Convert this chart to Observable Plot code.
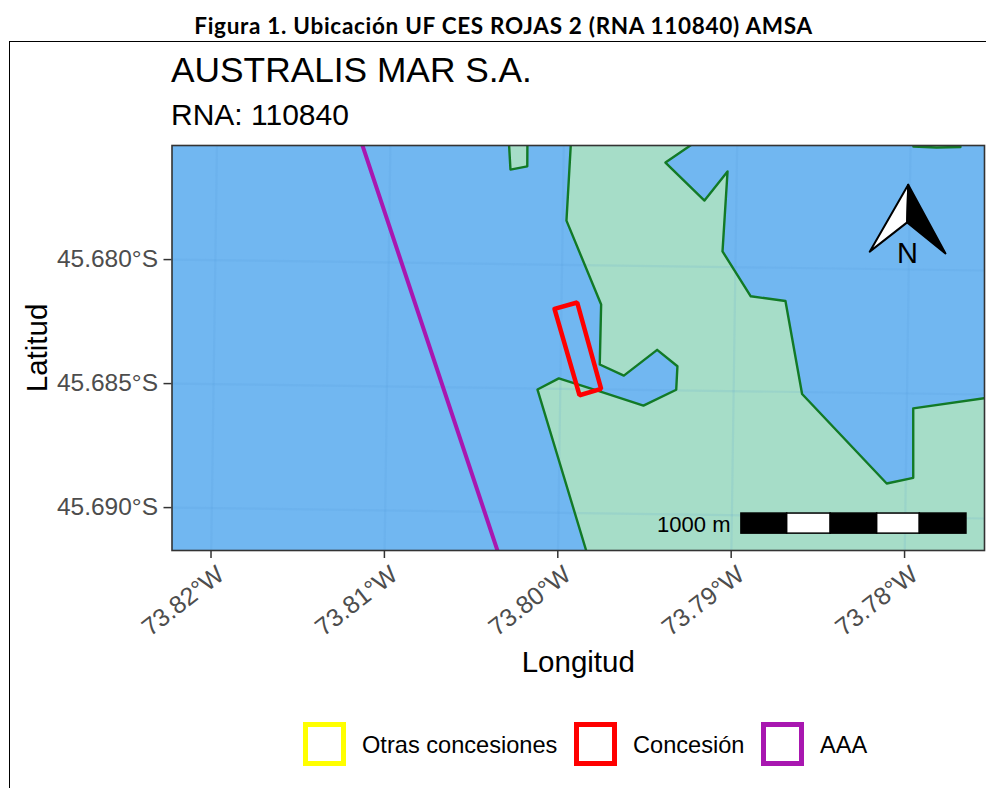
<!DOCTYPE html>
<html lang="es">
<head>
<meta charset="utf-8">
<title>Figura 1</title>
<script src="https://cdn.jsdelivr.net/npm/d3@7"></script>
<script src="https://cdn.jsdelivr.net/npm/@observablehq/plot@0.6"></script>
<style>
  html,body{margin:0;padding:0;background:#fff;}
  #page{position:relative;width:986px;height:788px;overflow:hidden;font-family:"Liberation Sans",sans-serif;}
  #rule{position:absolute;left:9px;top:41px;right:0;bottom:0;border-left:1px solid #000;border-top:1px solid #000;}
  #fig{position:absolute;left:0;width:1007px;top:13px;text-align:center;font:bold 22.5px Lato,sans-serif;letter-spacing:0.7px;color:#000;white-space:nowrap;line-height:26px;}
  #t1{position:absolute;left:171px;top:49px;font-size:35.3px;line-height:42px;color:#000;white-space:nowrap;}
  #t2{position:absolute;left:171px;top:98px;font-size:30px;line-height:34px;color:#000;white-space:nowrap;}
  #chart{position:absolute;left:0;top:135px;}
  #chart svg{display:block;}
  #legend{position:absolute;left:0;top:722px;height:44px;width:986px;font-size:23.6px;color:#000;}
  .sw{position:absolute;top:0;width:33px;height:34px;border:5px solid;}
  .lb{position:absolute;top:0;line-height:46px;white-space:nowrap;}
</style>
</head>
<body>
<div id="page">
  <div id="rule"></div>
  <div id="fig"></div>
  <div id="t1"></div>
  <div id="t2"></div>
  <div id="chart"></div>
  <div id="legend"></div>
</div>
<script>
const figureTitle = "Figura 1. Ubicación UF CES ROJAS 2 (RNA 110840) AMSA";
const title = "AUSTRALIS MAR S.A.";
const subtitle = "RNA: 110840";

const lonDomain = [-73.82225, -73.77539];
const latDomain = [-45.69173, -45.67540];
const lonTicks = [-73.82, -73.81, -73.80, -73.79, -73.78];
const latTicks = [-45.68, -45.685, -45.69];

const mainland = [
  [-73.79922,-45.67500],[-73.79950,-45.67843],[-73.79750,-45.68181],[-73.79758,-45.68423],
  [-73.79619,-45.68468],[-73.79427,-45.68364],[-73.79310,-45.68430],[-73.79317,-45.68525],
  [-73.79506,-45.68589],[-73.79758,-45.68531],[-73.79994,-45.68479],[-73.80117,-45.68524],
  [-73.79810,-45.69234],[-73.77447,-45.69234],[-73.77447,-45.68550],[-73.77950,-45.68600],
  [-73.77950,-45.68880],[-73.78103,-45.68903],[-73.78591,-45.68542],[-73.78687,-45.68167],
  [-73.78887,-45.68148],[-73.79050,-45.67967],[-73.79021,-45.67645],[-73.79154,-45.67762],
  [-73.79379,-45.67609],[-73.79152,-45.67500]
];
const islet = [[-73.80284,-45.67500],[-73.80273,-45.67637],[-73.80176,-45.67624],[-73.80175,-45.67500]];
const sliver = [[-73.77949,-45.67520],[-73.77949,-45.67544],[-73.77816,-45.67548],[-73.77678,-45.67546],[-73.77678,-45.67520]];
const concession = [[-73.80019,-45.68199],[-73.79888,-45.68173],[-73.79750,-45.68521],[-73.79875,-45.68547],[-73.80019,-45.68199]];
const aaaLine = [[-73.81155,-45.67480],[-73.80319,-45.69234]];

const lonGridTilt = 0.00035;
const latGridTilt = 0.00044;

const scaleBar = [
  {x1:-73.78941,x2:-73.78677,fill:"#000"},
  {x1:-73.78677,x2:-73.78426,fill:"#fff"},
  {x1:-73.78426,x2:-73.78158,fill:"#000"},
  {x1:-73.78158,x2:-73.77912,fill:"#fff"},
  {x1:-73.77912,x2:-73.77643,fill:"#000"}
];
const scaleBarLat = [-45.69105,-45.69024];
const scaleLabel = {lon:-73.79004,lat:-45.69069,text:"1000 m"};

const arrowWest = [[-73.77979,-45.67698],[-73.78201,-45.67968],[-73.77985,-45.67850]];
const arrowEast = [[-73.77979,-45.67698],[-73.77764,-45.67975],[-73.77985,-45.67850]];
const arrowLabel = {lon:-73.77983,lat:-45.67976,text:"N"};

const legendLabels = ["Otras concesiones","Concesión","AAA"];
const legendColors = ["#ffff00","#ff0000","#a817b0"];
const legendSwatchLeft = [303,574,761];
const legendTextLeft = [362,633,820];

const LAND = "#a6ddc8", SEA = "#71b7f1", COAST = "#127a26";

const lonGrid = lonTicks.flatMap(l => [[l,latDomain[0]-0.0006,l],[l+lonGridTilt,latDomain[1]+0.0003,l]]);
const latGrid = latTicks.flatMap(l => [[lonDomain[0],l,l],[lonDomain[1],l-latGridTilt,l]]);

const fmtLon = d => Math.abs(d).toFixed(2) + "°W";
const fmtLat = d => Math.abs(d).toFixed(3) + "°S";

const chart = Plot.plot({
  width: 986,
  height: 555,
  marginTop: 10,
  marginBottom: 140,
  marginLeft: 171.5,
  marginRight: 2,
  style: {fontFamily:'"Liberation Sans",sans-serif', background:"transparent", overflow:"visible"},
  x: {domain: lonDomain},
  y: {domain: latDomain},
  marks: [
    Plot.frame({fill: SEA, stroke:null}),
    Plot.line(mainland, {x:d=>d[0], y:d=>d[1], fill:LAND, stroke:null, clip:true}),
    Plot.line(islet, {x:d=>d[0], y:d=>d[1], fill:LAND, stroke:null, clip:true}),
    Plot.line(sliver, {x:d=>d[0], y:d=>d[1], fill:LAND, stroke:null, clip:true}),
    Plot.line(lonGrid, {x:d=>d[0], y:d=>d[1], z:d=>d[2], stroke:"#4a93d6", strokeOpacity:0.12, strokeWidth:2.2, clip:true}),
    Plot.line(latGrid, {x:d=>d[0], y:d=>d[1], z:d=>d[2], stroke:"#4a93d6", strokeOpacity:0.12, strokeWidth:2.2, clip:true}),
    Plot.line([...mainland, mainland[0]], {x:d=>d[0], y:d=>d[1], stroke:COAST, strokeWidth:2.4, curve:"linear", clip:true}),
    Plot.line(islet, {x:d=>d[0], y:d=>d[1], stroke:COAST, strokeWidth:2.4, clip:true}),
    Plot.line(sliver, {x:d=>d[0], y:d=>d[1], stroke:COAST, strokeWidth:2.4, clip:true}),
    Plot.line(aaaLine, {x:d=>d[0], y:d=>d[1], stroke:legendColors[2], strokeWidth:4, clip:true}),
    Plot.line(concession, {x:d=>d[0], y:d=>d[1], stroke:legendColors[1], strokeWidth:4.5, strokeLinejoin:"miter", clip:true}),
    Plot.rect(scaleBar, {x1:"x1", x2:"x2", y1:()=>scaleBarLat[0], y2:()=>scaleBarLat[1], fill:"fill", stroke:"#000", strokeWidth:1.5}),
    Plot.text([scaleLabel], {x:"lon", y:"lat", text:"text", textAnchor:"end", fontSize:22, fill:"#000"}),
    Plot.line([...arrowWest, arrowWest[0]], {x:d=>d[0], y:d=>d[1], fill:"#fff", stroke:"#000", strokeWidth:2, strokeLinejoin:"round"}),
    Plot.line([...arrowEast, arrowEast[0]], {x:d=>d[0], y:d=>d[1], fill:"#000", stroke:"#000", strokeWidth:2, strokeLinejoin:"round"}),
    Plot.text([arrowLabel], {x:"lon", y:"lat", text:"text", fontSize:29, fill:"#000"}),
    Plot.axisX({ticks:lonTicks, tickSize:8, fill:"none", stroke:"#333", strokeWidth:1.5, label:null}),
    Plot.axisX({ticks:lonTicks, tickFormat:fmtLon, tickSize:0, tickPadding:21, dx:10, tickRotate:-38, fontSize:25, fill:"#4d4d4d", label:null}),
    Plot.axisX({ticks:lonTicks, tickSize:0, tickFormat:()=>"", label:"Longitud", labelAnchor:"center", labelOffset:121, labelArrow:"none"}),
    Plot.axisY({ticks:latTicks, tickFormat:fmtLat, tickSize:8, tickPadding:6, fontSize:24.5, stroke:"#333", fill:"#4d4d4d", strokeWidth:1.5, label:"Latitud", labelAnchor:"center", labelOffset:146, labelArrow:"none"}),
    Plot.frame({stroke:"#333", strokeWidth:1.6})
  ]
});
document.getElementById("chart").appendChild(chart);
chart.querySelectorAll('[aria-label="x-axis label"] text, [aria-label="y-axis label"] text').forEach(t => {t.setAttribute("font-size","29.5"); t.setAttribute("fill","#000");});

document.getElementById("fig").textContent = figureTitle;
document.getElementById("t1").textContent = title;
document.getElementById("t2").textContent = subtitle;
const lg = document.getElementById("legend");
legendLabels.forEach((label,i) => {
  const s = document.createElement("div");
  s.className = "sw"; s.style.left = legendSwatchLeft[i]+"px"; s.style.borderColor = legendColors[i];
  const t = document.createElement("div");
  t.className = "lb"; t.style.left = legendTextLeft[i]+"px"; t.textContent = label;
  lg.append(s,t);
});
</script>
</body>
</html>
